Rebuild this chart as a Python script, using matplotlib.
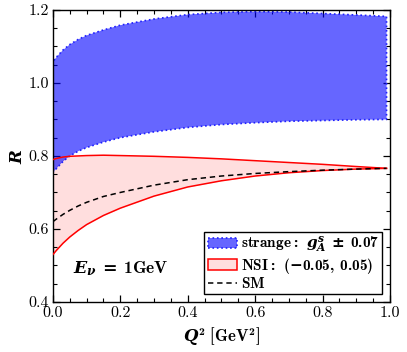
import matplotlib
matplotlib.use("Agg")
import matplotlib.pyplot as plt
from matplotlib.patches import Patch
from matplotlib.lines import Line2D
from matplotlib.ticker import MultipleLocator, FormatStrFormatter

plt.rcParams['font.family'] = 'serif'
plt.rcParams['font.serif'] = ['cmr10']
plt.rcParams['axes.unicode_minus'] = False
plt.rcParams['mathtext.fontset'] = 'custom'
plt.rcParams['mathtext.rm'] = 'cmb10'
plt.rcParams['mathtext.bf'] = 'cmb10'
plt.rcParams['mathtext.it'] = 'DejaVu Serif:italic:bold'
plt.rcParams['mathtext.sf'] = 'DejaVu Serif:bold'

q2 = [0.0, 0.01, 0.03, 0.05, 0.075, 0.1, 0.15, 0.2, 0.3, 0.4, 0.5, 0.6, 0.7, 0.8, 0.9, 0.99]
strange_hi = [1.058, 1.07, 1.09, 1.105, 1.119, 1.13, 1.145, 1.158, 1.175, 1.187, 1.193, 1.195, 1.194, 1.19, 1.186, 1.182]
strange_lo = [0.755, 0.765, 0.785, 0.80, 0.813, 0.823, 0.838, 0.85, 0.866, 0.878, 0.886, 0.891, 0.895, 0.897, 0.899, 0.90]
nsi_hi = [0.79, 0.793, 0.797, 0.799, 0.800, 0.801, 0.802, 0.801, 0.799, 0.796, 0.792, 0.787, 0.782, 0.777, 0.771, 0.766]
nsi_lo = [0.53, 0.541, 0.561, 0.578, 0.596, 0.612, 0.637, 0.657, 0.69, 0.715, 0.732, 0.745, 0.754, 0.76, 0.764, 0.766]
sm = [0.62, 0.627, 0.64, 0.651, 0.663, 0.673, 0.689, 0.70, 0.72, 0.735, 0.745, 0.752, 0.757, 0.761, 0.764, 0.766]

fig = plt.figure(figsize=(4.07, 3.52), dpi=100)
ax = fig.add_axes([0.130, 0.142, 0.828, 0.830])

ax.fill_between(q2, nsi_lo, nsi_hi, color='#ffdede', lw=0, zorder=1)
ax.fill_between(q2, strange_lo, strange_hi, facecolor=(0, 0, 1, 0.6),
                edgecolor='#2020ff', linestyle=':', lw=1.2, zorder=2)
ax.plot(q2, nsi_hi, color='red', lw=1.1, zorder=3)
ax.plot(q2, nsi_lo, color='red', lw=1.1, zorder=3)
ax.plot(q2, sm, color='black', lw=1.1, ls=(0, (3.5, 2.5)), zorder=4)

ax.set_xlim(0, 1.0)
ax.set_ylim(0.4, 1.2)
ax.xaxis.set_major_locator(MultipleLocator(0.2))
ax.xaxis.set_minor_locator(MultipleLocator(0.05))
ax.yaxis.set_major_locator(MultipleLocator(0.2))
ax.yaxis.set_minor_locator(MultipleLocator(0.05))
ax.tick_params(which='both', direction='in', top=True, right=True, labelsize=11.5)
ax.tick_params(which='major', length=5, width=0.9, pad=3)
ax.tick_params(which='minor', length=3, width=0.8)
for s in ax.spines.values():
    s.set_linewidth(1.0)
ax.xaxis.set_major_formatter(FormatStrFormatter('%.1f'))
ax.yaxis.set_major_formatter(FormatStrFormatter('%.1f'))

ax.set_xlabel(r'$Q^2\;\mathrm{[GeV^2]}$', fontsize=12, labelpad=4)
ax.set_ylabel(r'$R$', fontsize=12, labelpad=2)

ax.text(0.06, 0.49, r'$E_\nu \mathsf{\,=\,} \mathrm{1GeV}$', fontsize=12.5, va='center')

handles = [
    Patch(facecolor=(0, 0, 1, 0.6), edgecolor='#2020ff', linestyle=':', lw=1.2),
    Patch(facecolor='#ffdede', edgecolor='red', lw=1.1),
    Line2D([0], [0], color='black', lw=1.1, ls=(0, (3.5, 2.5))),
]
labels = [r'$\mathrm{strange:}\ g_A^s \mathsf{\,\pm\,} \mathrm{0.07}$',
          r'$\mathrm{NSI:}\ (\mathsf{-}\mathrm{0.05,\,0.05})$',
          r'$\mathrm{SM}$']
leg = ax.legend(handles, labels, loc='lower right', fontsize=11, frameon=True,
                fancybox=False, edgecolor='black', framealpha=1,
                handlelength=1.9, handletextpad=0.3, borderpad=0.2,
                labelspacing=0.05, borderaxespad=0.5)
leg.get_frame().set_linewidth(1.0)

fig.savefig('out.png', dpi=100)
